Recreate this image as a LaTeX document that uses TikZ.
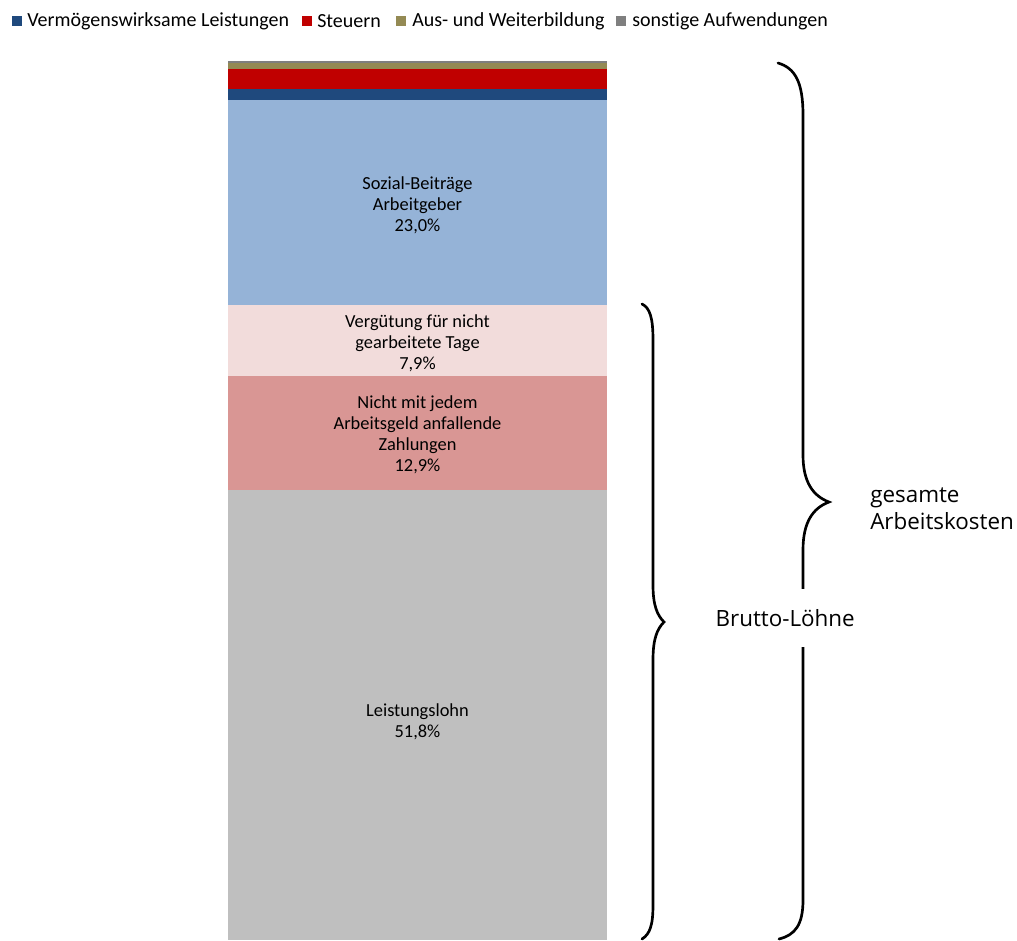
\documentclass[tikz,border=0pt]{standalone}
\usepackage{fontspec}
\setmainfont{Carlito}[Ligatures=NoCommon]
\newfontfamily\bracefont{Open Sans}
\usepackage{tikz}
\definecolor{vwlblue}{HTML}{1F497D}
\definecolor{steuerred}{HTML}{C00000}
\definecolor{ausolive}{HTML}{948A54}
\definecolor{sonstgray}{HTML}{7F7F7F}
\definecolor{sozblue}{HTML}{95B3D7}
\definecolor{vergpink}{HTML}{F2DCDB}
\definecolor{nichtrose}{HTML}{D99694}
\definecolor{lohngray}{HTML}{BFBFBF}
\tikzset{
  seglabel/.style={align=center, font=\fontsize{13.8}{15.8}\selectfont, inner sep=0pt},
  legbox/.style={minimum size=7.8pt, inner sep=0pt},
  legtext/.style={anchor=west, font=\fontsize{15}{17}\selectfont, inner sep=0pt},
  brace/.style={line width=2pt, line cap=round},
  bracelabel/.style={anchor=west, align=left, font=\bracefont\fontsize{16.8}{20}\selectfont, inner sep=0pt}
}

\begin{document}
\begin{tikzpicture}[x=0.75pt, y=-0.75pt]
    \useasboundingbox (0,0) rectangle (1017,940);

    % Legend
    \node[legbox, fill=vwlblue] (lvwl) at (17,21) {};
    \node[legtext] (tvwl) at (27,21) {Vermögenswirksame Leistungen};
    \node[legbox, fill=steuerred] (lst) at (307,21) {};
    \node[legtext] (tst) at (317,21) {Steuern};
    \node[legbox, fill=ausolive] (laus) at (401,21) {};
    \node[legtext] (taus) at (412,21) {Aus- und Weiterbildung};
    \node[legbox, fill=sonstgray] (lson) at (621,21) {};
    \node[legtext] (tson) at (632,21) {sonstige Aufwendungen};

    % Stacked bar
    \fill[sonstgray] (228,61) rectangle (607,63);
    \fill[ausolive] (228,63) rectangle (607,69);
    \fill[steuerred] (228,69) rectangle (607,89);
    \fill[vwlblue] (228,89) rectangle (607,100);
    \fill[sozblue] (228,100) rectangle (607,305);
    \fill[vergpink] (228,305) rectangle (607,376);
    \fill[nichtrose] (228,376) rectangle (607,490);
    \fill[lohngray] (228,490) rectangle (607,940);

    % Segment labels
    \node[seglabel] (soz) at (417.5,205) {Sozial-Beiträge\\Arbeitgeber\\23,0\%};
    \node[seglabel] (verg) at (417.5,343) {Vergütung für nicht\\gearbeitete Tage\\7,9\%};
    \node[seglabel] (nicht) at (417.5,435) {Nicht mit jedem\\Arbeitsgeld anfallende\\Zahlungen\\12,9\%};
    \node[seglabel] (lohn) at (417.5,722) {Leistungslohn\\51,8\%};

    % Brace Brutto-Loehne
    \draw[brace] (642,304) .. controls (650,308) and (653,318) .. (653,340)
        -- (653,585) .. controls (653,605) and (657,615) .. (664,622)
        .. controls (657,629) and (653,639) .. (653,660)
        -- (653,905) .. controls (653,925) and (650,934) .. (642,939);

    % Brace gesamte Arbeitskosten
    \draw[brace] (778,63) .. controls (795,68) and (803,82) .. (803,115)
        -- (803,455) .. controls (803,482) and (813,496) .. (829,502)
        .. controls (813,508) and (803,522) .. (803,550)
        -- (803,900) .. controls (803,925) and (795,935) .. (779,939);
    \node[bracelabel] (gesamt) at (870,509) {gesamte\\Arbeitskosten};

    % label on white, cuts the big brace
    \node[bracelabel, fill=white, inner xsep=4pt, inner ysep=15pt] (brutto) at (710,618) {Brutto-Löhne};
\end{tikzpicture}
\end{document}
